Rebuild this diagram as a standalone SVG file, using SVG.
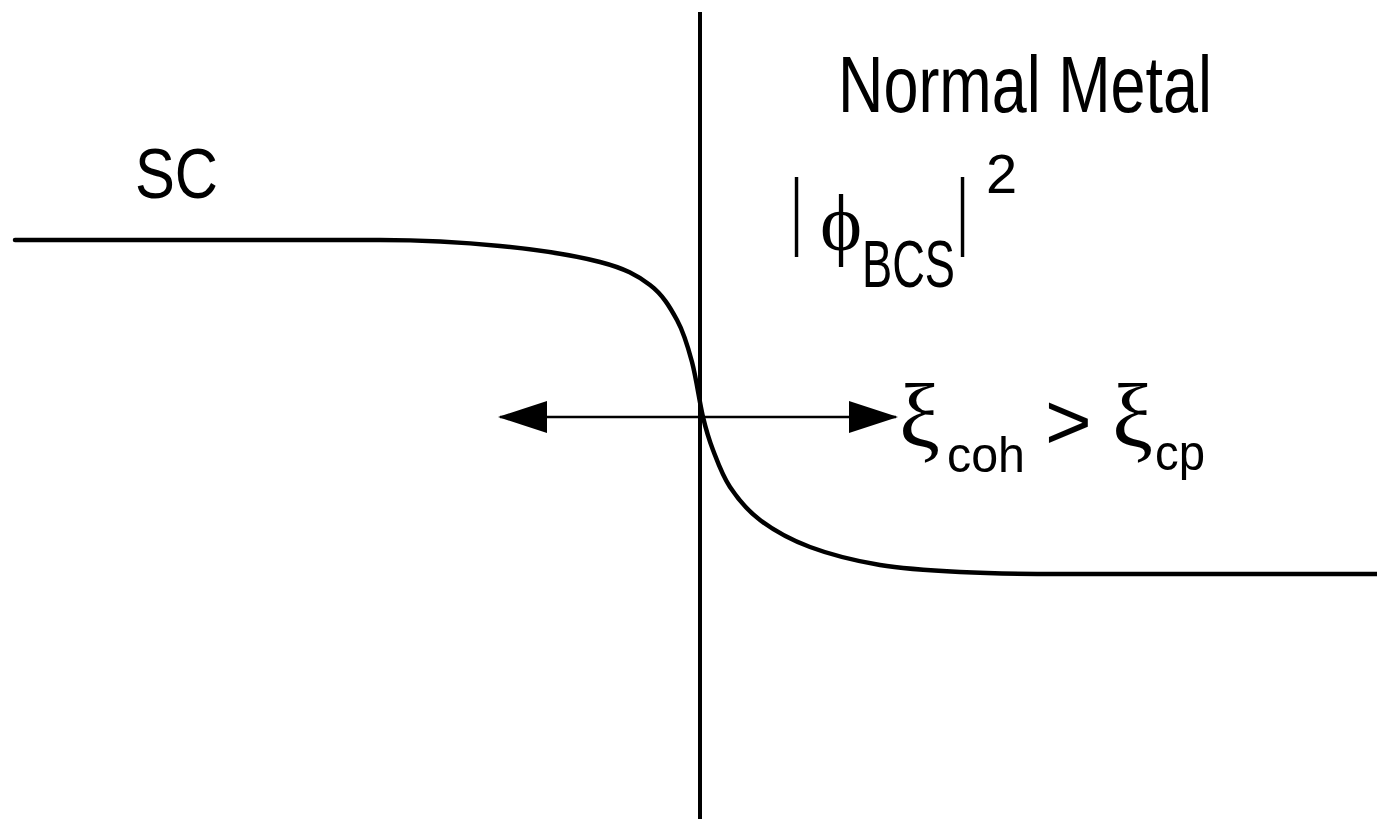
<svg xmlns="http://www.w3.org/2000/svg" width="1377" height="819" viewBox="0 0 1377 819">
<defs>
<style>
.sans{font-family:"Liberation Sans",Arial,sans-serif;fill:#000}
.serif{font-family:"Liberation Serif","Times New Roman",serif;fill:#000}
.bar{font-family:"Liberation Sans",Arial,sans-serif;fill:#000;font-size:85px}
.ln{stroke:#000;fill:none}
</style>
<marker id="ah" viewBox="0 0 49 32" markerWidth="49" markerHeight="32" refX="47" refY="16" markerUnits="userSpaceOnUse" orient="auto-start-reverse">
<path d="M0,0 L49,16 L0,32 Z" fill="#000"/>
</marker>
</defs>
<rect width="1377" height="819" fill="#fff"/>
<g id="connectors">
<line id="interface" class="ln" x1="700" y1="12" x2="700" y2="819" stroke-width="4"/>
<path id="profile" class="ln" stroke-width="4.5" stroke-linecap="round" d="M15 240 L380 240 C420 240 463.3 242.3 500 246 C536.7 249.7 575 255.5 600 262 C625 268.5 637.2 275.3 650 285 C662.8 294.7 670 307.2 677 320 C684 332.8 687.7 345.8 692 362 C696.3 378.2 699.5 402.3 703 417 C706.5 431.7 708.5 438.3 713 450 C717.5 461.7 722.2 475.3 730 487 C737.8 498.7 746.7 510 760 520 C773.3 530 790 539.5 810 547 C830 554.5 855 560.8 880 565 C905 569.2 930 570.5 960 572 C990 573.5 1020 574 1060 574 L1377 574"/>
<line id="arrow" class="ln" x1="500" y1="417" x2="896" y2="417" stroke-width="2.5" marker-start="url(#ah)" marker-end="url(#ah)"/>
</g>
<g id="label-sc">
<text class="sans" x="135" y="198" font-size="70" textLength="83" lengthAdjust="spacingAndGlyphs">SC</text>
</g>
<g id="label-normal">
<text class="sans" x="838" y="112" font-size="80" textLength="374" lengthAdjust="spacingAndGlyphs">Normal Metal</text>
</g>
<g id="label-phi">
<text class="bar" transform="translate(797,239) scale(0.5,1)" x="-11.8" y="0">|</text>
<text class="serif" x="820" y="250" font-size="80">ϕ</text>
<text class="sans" x="862" y="287" font-size="66" textLength="93" lengthAdjust="spacingAndGlyphs">BCS</text>
<text class="bar" transform="translate(963,239) scale(0.5,1)" x="-11.8" y="0">|</text>
<text class="sans" x="986" y="193" font-size="56">2</text>
</g>
<g id="label-xi">
<text class="serif" x="899" y="447" font-size="92">ξ</text>
<text class="sans" x="947" y="472" font-size="50" textLength="78" lengthAdjust="spacingAndGlyphs">coh</text>
<text class="sans" x="1045" y="449" font-size="80">&gt;</text>
<text class="serif" x="1112" y="447" font-size="92">ξ</text>
<text class="sans" x="1155" y="470" font-size="50" textLength="50" lengthAdjust="spacingAndGlyphs">cp</text>
</g>
</svg>
